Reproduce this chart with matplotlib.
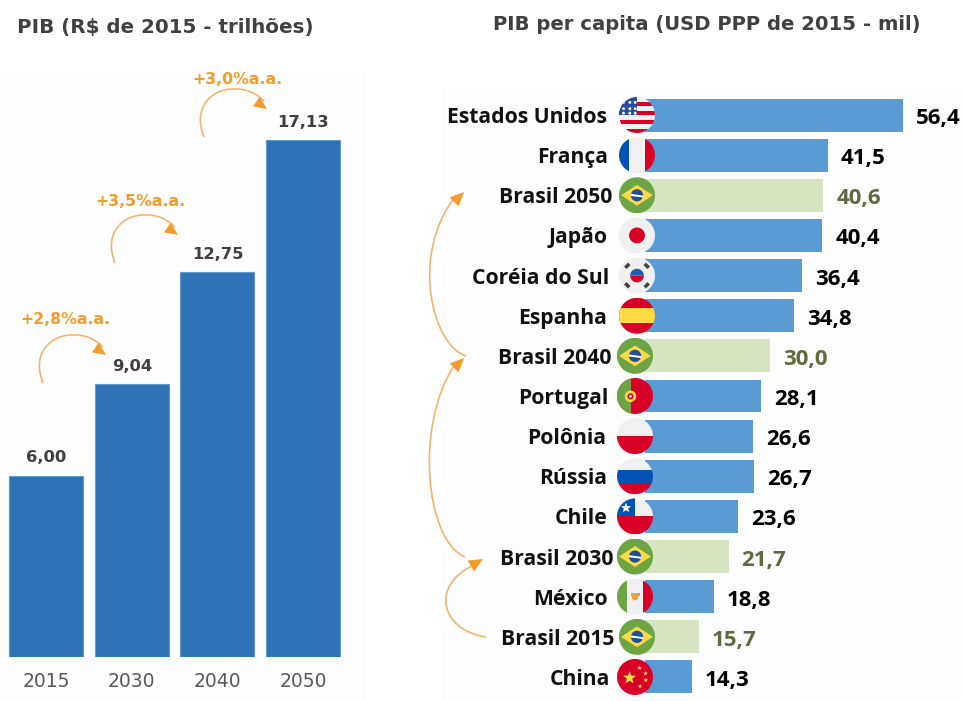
import numpy as np
import matplotlib
matplotlib.use("Agg")
import matplotlib.pyplot as plt
from matplotlib.patches import Circle, Rectangle, Polygon, PathPatch, Wedge
from matplotlib.path import Path

# ---- data ----
years = ["2015", "2030", "2040", "2050"]
pib = [6.00, 9.04, 12.75, 17.13]
pib_labels = ["6,00", "9,04", "12,75", "17,13"]
growth = ["+2,8%a.a.", "+3,5%a.a.", "+3,0%a.a."]

countries = ["Estados Unidos", "França", "Brasil 2050", "Japão", "Coréia do Sul", "Espanha",
             "Brasil 2040", "Portugal", "Polônia", "Rússia", "Chile", "Brasil 2030",
             "México", "Brasil 2015", "China"]
gdp_pc = [56.4, 41.5, 40.6, 40.4, 36.4, 34.8, 30.0, 28.1, 26.6, 26.7, 23.6, 21.7, 18.8, 15.7, 14.3]
gdp_labels = ["56,4", "41,5", "40,6", "40,4", "36,4", "34,8", "30,0", "28,1", "26,6", "26,7",
              "23,6", "21,7", "18,8", "15,7", "14,3"]

W, H = 963, 701
BLUE_L, BLUE_R, GREEN = "#2F72B5", "#5B9BD5", "#D6E4C2"
ORANGE, ORANGE_LINE = "#F39C2B", "#F3B46E"
GREY_TXT, OLIVE = "#404040", "#5E6B3F"
SANS = "Open Sans"

fig = plt.figure(figsize=(W / 100, H / 100), dpi=100, facecolor="white")


def px_axes(x0, y0, x1, y1, **kw):
    return fig.add_axes([x0 / W, 1 - y1 / H, (x1 - x0) / W, (y1 - y0) / H], **kw)


# faint panels behind the two pictures
bg = px_axes(0, 0, W, H)
bg.set_xlim(0, W); bg.set_ylim(H, 0); bg.axis("off")
bg.add_patch(Rectangle((0, 70), 367, 631, fc="#FDFDFD", ec="none"))
bg.add_patch(Rectangle((442, 88), 521, 613, fc="#FDFDFD", ec="none"))

# ---- left chart ----
axl = px_axes(3.2, 70, 346, 657)
axl.patch.set_alpha(0)
axl.bar(range(4), pib, width=0.864, color=BLUE_L, edgecolor="#5F9AD3", linewidth=0.8)
axl.set_xlim(-0.5, 3.5)
axl.set_ylim(0, 587 / 30.18)
axl.set_yticks([])
axl.set_xticks(range(4), years)
axl.tick_params(axis="x", length=0, pad=11, labelsize=13.5, labelcolor="#595959")
for s in axl.spines.values():
    s.set_visible(False)
for i, (v, t) in enumerate(zip(pib, pib_labels)):
    axl.annotate(t, (i, v), xytext=(0, 18), textcoords="offset pixels", ha="center", va="center",
                 fontsize=11.8, fontweight="bold", color=GREY_TXT, annotation_clip=False)

# ---- right chart ----
axr = px_axes(645, 95, W, 697)
axr.patch.set_alpha(0)
colors = [GREEN if c.startswith("Brasil") else BLUE_R for c in countries]
axr.barh(range(15), gdp_pc, height=0.82, color=colors, edgecolor="none")
axr.set_xlim(5, 5 + 318 / 5.01)
axr.set_ylim(14.5, -0.5)
axr.axis("off")
for i, (c, v, t) in enumerate(zip(countries, gdp_pc, gdp_labels)):
    br = c.startswith("Brasil")
    axr.annotate(t, (v, i), xytext=(13, -1), textcoords="offset pixels", ha="left", va="center_baseline",
                 fontsize=16, fontweight="bold", family=SANS,
                 color=OLIVE if br else "black", annotation_clip=False)

# label right edges and flag centres follow the rows of the right chart
label_right = [607, 608, 612, 608, 609, 607, 612, 608, 606, 607, 608, 614, 608, 614, 610]
flag_x = [637, 637, 637, 637, 637, 637, 635, 635, 635, 635, 635, 635, 635, 637, 635]

ov = px_axes(0, 0, W, H)
ov.set_xlim(0, W); ov.set_ylim(H, 0); ov.axis("off"); ov.patch.set_alpha(0)
row_y = [115 + 40.14 * i for i in range(15)]
for c, xr, y in zip(countries, label_right, row_y):
    ov.text(xr, y, c, ha="right", va="center_baseline", fontsize=15.2, fontweight="bold",
            family=SANS, color="#111111")

R = 18


def flag(name, cx, cy):
    clip = Circle((cx, cy), R, transform=ov.transData)

    def rect(x0, y0, x1, y1, col):
        p = Rectangle((cx + x0 * R, cy + y0 * R), (x1 - x0) * R, (y1 - y0) * R, fc=col, ec="none")
        ov.add_patch(p); p.set_clip_path(clip)

    def circ(x, y, r, col):
        p = Circle((cx + x * R, cy + y * R), r * R, fc=col, ec="none")
        ov.add_patch(p); p.set_clip_path(clip)

    def poly(pts, col):
        p = Polygon([(cx + a * R, cy + b * R) for a, b in pts], fc=col, ec="none")
        ov.add_patch(p); p.set_clip_path(clip)

    def star(x, y, r, col):
        ang = np.deg2rad(-90 + 36 * np.arange(10))
        rad = np.where(np.arange(10) % 2 == 0, r, r * 0.42)
        poly(list(zip(x + rad * np.cos(ang), y + rad * np.sin(ang))), col)

    red, white, blue = "#D80027", "#F0F0F0", "#0052B4"
    if name == "Estados Unidos":
        rect(-1, -1, 1, 1, white)
        for k in range(4):
            rect(-1, -0.62 + k * 0.5 - 0.12 + 0.0, 1, -0.62 + k * 0.5 + 0.12, red)
        rect(-1, -1, 0.02, 0.02, "#2A4C9C")
        for a in (-0.75, -0.4, -0.1):
            for b in (-0.7, -0.35, -0.1):
                circ(a, b, 0.08, "white")
    elif name == "França":
        rect(-1, -1, -0.42, 1, blue); rect(-0.42, -1, 0.42, 1, white); rect(0.42, -1, 1, 1, red)
    elif name.startswith("Brasil"):
        rect(-1, -1, 1, 1, "#6DA544")
        poly([(-0.88, 0), (0, -0.58), (0.88, 0), (0, 0.58)], "#FFDA44")
        circ(0, 0, 0.34, "#1F4E9C")
        poly([(-0.34, -0.08), (0.34, 0.02), (0.34, 0.12), (-0.34, 0.04)], "white")
    elif name == "Japão":
        rect(-1, -1, 1, 1, white); circ(0, 0, 0.44, red)
    elif name == "Coréia do Sul":
        rect(-1, -1, 1, 1, white)
        ov.add_patch(Wedge((cx, cy), 0.38 * R, 180, 360, fc="#1F5FB4", ec="none"))
        ov.add_patch(Wedge((cx, cy), 0.38 * R, 0, 180, fc=red, ec="none"))
        for sx, sy in ((-1, -1), (1, -1), (-1, 1), (1, 1)):
            poly([(sx * 0.36, sy * 0.58), (sx * 0.58, sy * 0.36), (sx * 0.72, sy * 0.5), (sx * 0.5, sy * 0.72)],
                 "#444444")
    elif name == "Espanha":
        rect(-1, -1, 1, 1, red); rect(-1, -0.42, 1, 0.42, "#FFDA44")
    elif name == "Portugal":
        rect(-1, -1, 1, 1, red); rect(-1, -1, -0.25, 1, "#6DA544")
        circ(-0.25, 0.02, 0.32, "#FFDA44"); circ(-0.25, 0.02, 0.17, red); circ(-0.25, 0.02, 0.08, white)
    elif name == "Polônia":
        rect(-1, -1, 1, 0, white); rect(-1, 0, 1, 1, red)
    elif name == "Rússia":
        rect(-1, -1, 1, -0.35, white); rect(-1, -0.35, 1, 0.35, blue); rect(-1, 0.35, 1, 1, red)
    elif name == "Chile":
        rect(-1, -1, 1, 0, white); rect(-1, 0, 1, 1, red); rect(-1, -1, -0.02, 0, blue)
        star(-0.5, -0.47, 0.3, "white")
    elif name == "México":
        rect(-1, -1, -0.42, 1, "#6DA544"); rect(-0.42, -1, 0.42, 1, white); rect(0.42, -1, 1, 1, red)
        circ(0, 0.02, 0.18, "#E8A33D"); rect(-0.25, -0.18, 0.25, -0.05, "#E8A33D")
    elif name == "China":
        rect(-1, -1, 1, 1, red)
        star(-0.3, 0.05, 0.38, "#FFDA44")
        for a, b in ((0.25, -0.5), (0.58, -0.2), (0.6, 0.18), (0.28, 0.52)):
            star(a, b, 0.14, "#FFDA44")


for c, fx, y in zip(countries, flag_x, row_y):
    flag(c, fx, y)


def curve(pts, col=ORANGE_LINE):
    verts = [pts[0]] + list(pts[1:])
    codes = [Path.MOVETO] + [Path.CURVE4] * (len(pts) - 1)
    ov.add_patch(PathPatch(Path(verts, codes), fc="none", ec=col, lw=1.2))


def head(tip, angle, size=13):
    a = np.deg2rad(angle)
    d = np.array([np.cos(a), np.sin(a)])
    n = np.array([-d[1], d[0]])
    t = np.array(tip)
    ov.add_patch(Polygon([t, t - d * size + n * size * 0.45, t - d * size - n * size * 0.45], fc=ORANGE, ec="none"))


# growth arrows, left chart
for (x0, y0), txt, tc in zip([(43, 383), (115, 263), (204, 137)], growth,
                             [(65, 319), (140, 201), (237, 79)]):
    curve([(x0, y0), (x0 - 12, y0 - 30), (x0 + 8, y0 - 47), (x0 + 27, y0 - 48)])
    curve([(x0 + 27, y0 - 48), (x0 + 42, y0 - 49), (x0 + 52, y0 - 44), (x0 + 60, y0 - 36)])
    head((x0 + 63, y0 - 28), 35)
    ov.text(tc[0], tc[1], txt, ha="center", va="center", fontsize=11.3, fontweight="bold", color=ORANGE)

# growth arrows, right chart
curve([(466, 356), (432, 345), (410, 255), (455, 197)])
head((464, 192), -45, 14)
curve([(465, 557), (425, 540), (415, 425), (454, 366)])
head((464, 358), -45, 14)
curve([(486, 637), (440, 630), (430, 585), (474, 565)])
head((483, 559), -30, 14)

# titles
ov.text(17, 27, "PIB (R$ de 2015 - trilhões)", ha="left", va="center", fontsize=14.3,
        fontweight="bold", color=GREY_TXT)
ov.text(707, 25, "PIB per capita (USD PPP de 2015 - mil)", ha="center", va="center", fontsize=14.1,
        fontweight="bold", color=GREY_TXT)

fig.savefig("out.png", dpi=100)
